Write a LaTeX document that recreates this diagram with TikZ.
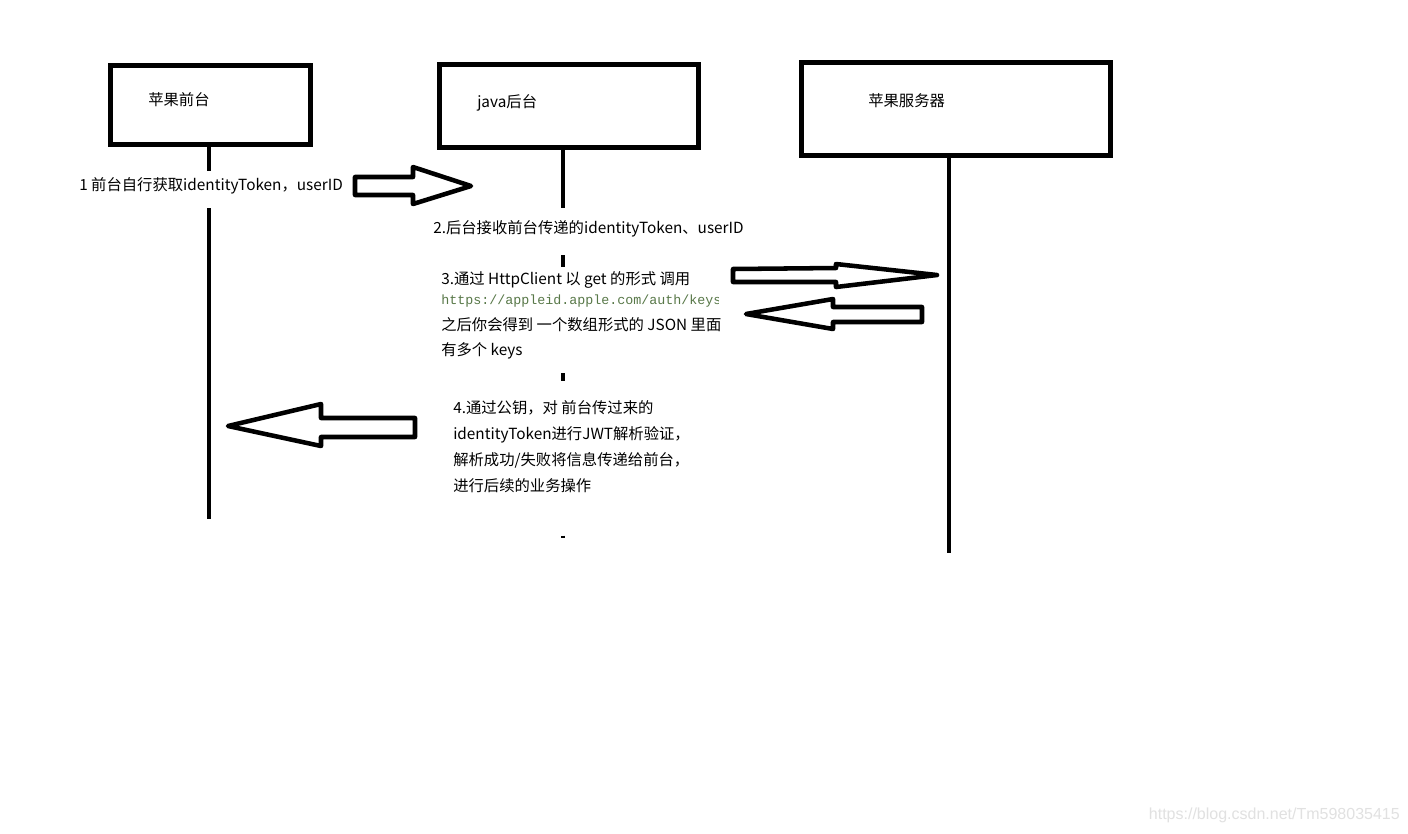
\documentclass[tikz,border=0pt]{standalone}
\usepackage{fontspec}
\setmainfont{Noto Sans CJK SC}
\setmonofont{Liberation Mono}
\setsansfont{Liberation Sans}
\definecolor{urlgreen}{RGB}{88,120,72}
\definecolor{wmgray}{RGB}{225,225,225}
\begin{document}
\begin{tikzpicture}[x=0.75pt,y=-0.75pt,
  box/.style={draw=black,line width=3.75pt,fill=white,inner sep=0pt},
  life/.style={draw=black,line width=3.4pt,line cap=butt},
  blockarrow/.style={draw=black,line width=3.4pt,line join=round,fill=white},
  txt/.style={anchor=west,inner sep=0pt,font=\fontsize{11.5pt}{13pt}\selectfont,text=black},
  urltxt/.style={anchor=west,inner sep=0pt,font=\ttfamily\fontsize{10pt}{12pt}\selectfont,text=urlgreen}]
\useasboundingbox (0,0) rectangle (1408,833);
\fill[white] (0,0) rectangle (1408,833);

% participant boxes
\node[box,minimum width=150pt,minimum height=59.25pt] (b1) at (210.5,105) {};
\node[box,minimum width=194.25pt,minimum height=62.6pt] (b2) at (568.5,105.75) {};
\node[box,minimum width=231.75pt,minimum height=69.4pt] (b3) at (956,108.75) {};
\node[txt] (b1t) at (148,100) {苹果前台};
\node[txt] (b2t) at (477,103) {java后台};
\node[txt] (b3t) at (868,101) {苹果服务器};

% lifelines
\coordinate (l1a) at (209,146);
\coordinate (l1b) at (209,171);
\coordinate (l1c) at (209,208);
\coordinate (l1d) at (209,519);
\draw[life] (l1a) -- (l1b);
\draw[life] (l1c) -- (l1d);
\coordinate (l2a) at (563,149);
\coordinate (l2b) at (563,208);
\coordinate (l2c) at (563,255);
\coordinate (l2d) at (563,267);
\coordinate (l2e) at (563,373);
\coordinate (l2f) at (563,381);
\coordinate (l2g) at (563,535.5);
\coordinate (l2h) at (563,537.5);
\draw[life] (l2a) -- (l2b);
\draw[life] (l2c) -- (l2d);
\draw[life] (l2e) -- (l2f);
\draw[life] (l2g) -- (l2h);
\coordinate (l3a) at (949,157);
\coordinate (l3b) at (949,553);
\draw[life] (l3a) -- (l3b);

% block arrows
\draw[blockarrow] (355,177) -- (413,177) -- (413,167) -- (471,186) -- (413,204) -- (413,195) -- (355,195) -- cycle;
\draw[blockarrow] (733,269) -- (836,268) -- (836,264) -- (937,275) -- (836,287) -- (836,282) -- (733,282) -- cycle;
\draw[blockarrow] (746,314) -- (833,299) -- (833,307) -- (922,307) -- (922,322) -- (833,322) -- (833,329) -- cycle;
\draw[blockarrow] (228,426) -- (321,404) -- (321,418) -- (415,418) -- (415,437) -- (321,437) -- (321,446) -- cycle;

% messages
\node[txt] (t1) at (79,186) {1 前台自行获取identityToken，userID};
\node[txt] (t2) at (433,229) {2.后台接收前台传递的identityToken、userID};
\node[txt] (t3a) at (441,280) {3.通过 HttpClient 以 get 的形式 调用};
\begin{scope}
\clip (430,290) rectangle (718,312);
\node[urltxt] (t3b) at (441,301) {https://appleid.apple.com/auth/keys};
\end{scope}
\node[txt] (t3c) at (441,325) {之后你会得到 一个数组形式的 JSON 里面};
\node[txt] (t3d) at (441,351) {有多个 keys};
\node[txt] (t4a) at (453,408) {4.通过公钥，对 前台传过来的};
\node[txt] (t4b) at (453,435) {identityToken进行JWT解析验证，};
\node[txt] (t4c) at (453,460) {解析成功/失败将信息传递给前台，};
\node[txt] (t4d) at (453,486) {进行后续的业务操作};

% watermark
\node[anchor=east,inner sep=0pt,font=\sffamily\fontsize{12pt}{14pt}\selectfont,text=wmgray] (wm) at (1400,815) {https://blog.csdn.net/Tm598035415};
\end{tikzpicture}
\end{document}
